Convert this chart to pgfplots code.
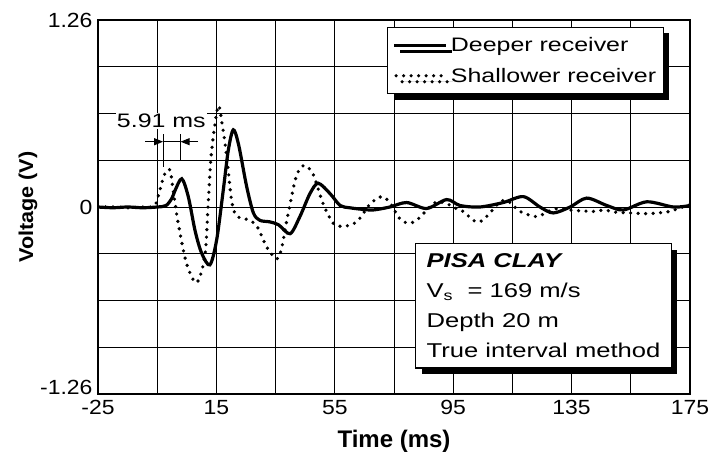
\documentclass[border=0pt]{standalone}
\usepackage{fontspec}
\setmainfont{Liberation Sans}
\usepackage{graphicx}
\usepackage{pgfplots}
\pgfplotsset{compat=1.18}
\usetikzlibrary{shadows,arrows.meta}
\newcommand\sx[1]{\scalebox{1.28}[1]{#1}}
\newcommand\sxt[1]{\scalebox{1.12}[1]{#1}}

\begin{document}
\begin{tikzpicture}
\begin{axis}[
 scale only axis, width=592pt, height=374pt,
 xmin=-25, xmax=175, ymin=-1.26, ymax=1.26,
 xtick={-25,15,55,95,135,175},
 xticklabels={\sxt{-25},\sxt{15},\sxt{55},\sxt{95},\sxt{135},\sxt{175}},
 minor xtick={-5,35,75,115,155},
 ytick={0,1.26},
 yticklabels={\sxt{0},\sxt{1.26}},
 extra y ticks={-1.26},
 extra y tick labels={\sxt{-1.26}},
 extra y tick style={yticklabel style={yshift=7pt}},
 minor ytick={-0.945,-0.63,-0.315,0.315,0.63,0.945},
 grid=both,
 major grid style={black, line width=0.7pt},
 minor grid style={black, line width=0.7pt},
 axis line style={line width=2.6pt},
 tick style={draw=none},
 ticklabel style={font=\fontsize{20.5}{22}\selectfont},
 xticklabel style={yshift=-3pt},
 yticklabel style={xshift=-2pt},
 /pgf/number format/assume math mode=true,
 xlabel={Time (ms)},
 ylabel={\scalebox{1.08}[1]{Voltage (V)}},
 xlabel style={font=\fontsize{24}{26}\selectfont\bfseries, yshift=-8pt},
 ylabel style={font=\fontsize{20}{22}\selectfont\bfseries},
 ylabel shift=-4pt,
 legend style={at={(0.488,0.982)}, anchor=north west, draw=black, line width=1.2pt, fill=white,
   font=\fontsize{19.5}{21}\selectfont,
   drop shadow={shadow xshift=6pt, shadow yshift=-6pt, fill=black, opacity=1},
   inner xsep=5pt, inner ysep=8pt, row sep=11pt},
 legend cell align=left,
]
\coordinate (bl) at (rel axis cs:0,0);
\coordinate (tr) at (rel axis cs:1,1);

\addplot[black, line width=3.2pt, smooth, tension=0.5,
  legend image code/.code={\draw[black,line width=3.2pt] (0pt,0pt) -- (52pt,0pt);}] coordinates {
(-25,0.0) (-20,-0.005) (-15,0.0) (-10,-0.005) (-5,0.0) (-2,0.01) (0,0.06) (1,0.11) (3.3,0.19)
(5.5,0.07) (7.8,-0.16) (10,-0.31) (12.8,-0.39) (15.1,-0.22) (17.3,0.11) (19,0.38) (20.7,0.52)
(22.5,0.42) (25.2,0.14) (27.5,-0.04) (29.7,-0.09) (33,-0.10) (36,-0.12) (39.9,-0.18)
(43.2,-0.065) (46.6,0.09) (49.4,0.16) (53.4,0.09) (56.8,0.01) (60,-0.005) (64,-0.015) (68,-0.02)
(73.6,0.0) (79.3,0.03) (86,-0.01) (92.8,0.05) (97.3,0.01) (104,0.0) (111.9,0.03) (118.7,0.07)
(124.3,0.0) (128.8,-0.04) (134.5,0.0) (140.1,0.06) (146.9,0.01) (152.5,-0.02) (160.4,0.035)
(169.4,0.0) (175,0.01)
};
\addlegendentry{\sx{Deeper receiver}}

\addplot[black, line width=3.6pt, line cap=round, dash pattern=on 0pt off 7.5pt, smooth, tension=0.5,
  legend image code/.code={\draw[black,line width=3.6pt,line cap=round,dash pattern=on 0pt off 7.5pt] (2pt,0pt) -- (53pt,0pt);}] coordinates {
(-25,0.0) (-20,0.0) (-15,-0.005) (-10,0.0) (-7,0.0) (-5.5,0.02) (-4,0.12) (-2.5,0.22) (-0.7,0.25)
(0.4,0.11) (2.1,-0.11) (4.9,-0.38) (8.3,-0.51) (11.1,-0.33) (12.3,0.05) (13.4,0.38) (15.6,0.68)
(17,0.55) (18.5,0.34) (20.1,0.05) (21.8,-0.06) (26.4,-0.09) (29,-0.14) (32,-0.27) (35.4,-0.35)
(37,-0.28) (38.5,-0.12) (40,0.03) (41.6,0.18) (43,0.25) (44.9,0.28) (47.7,0.22) (51.1,0.02)
(54.5,-0.11) (57.9,-0.13) (62.4,-0.10) (66.9,0.02) (70.8,0.07) (73.6,0.03) (77,-0.08)
(80.4,-0.11) (83.8,-0.07) (86,-0.02) (89.4,0.035) (93,0.02) (96,-0.01) (98.4,-0.03)
(101.8,-0.09) (104,-0.10) (107,-0.05) (110.8,0.035) (113.5,0.04) (117.6,-0.03) (123.2,-0.065)
(127,-0.03) (130.5,-0.01) (134,-0.02) (142.3,-0.03) (145.7,-0.02) (150,-0.035) (154.7,-0.04)
(160.4,-0.045) (164,-0.04) (168.2,-0.03) (171,-0.01) (173.9,0.01) (175,0.015)
};
\addlegendentry{\sx{Shallower receiver}}

\draw[line width=1pt, -{Triangle[length=9pt,width=7pt]}] (axis cs:-9.1,0.44) -- (axis cs:-3,0.44);
\draw[line width=1pt, -{Triangle[length=9pt,width=7pt]}] (axis cs:8.8,0.44) -- (axis cs:2.9,0.44);
\draw[line width=0.5pt] (axis cs:-3,0.44) -- (axis cs:2.9,0.44);
\draw[line width=0.8pt] (axis cs:-3,0.49) -- (axis cs:-3,0.27);
\draw[line width=0.8pt] (axis cs:2.9,0.49) -- (axis cs:2.9,0.32);
\node[font=\fontsize{19.5}{20}\selectfont, fill=white, inner sep=1pt] at (axis cs:-3.6,0.58) {\sx{5.91 ms}};

\node[draw, line width=1.2pt, fill=white,
  drop shadow={shadow xshift=6pt, shadow yshift=-6pt, fill=black, opacity=1},
  anchor=north west, align=left, inner xsep=11pt, inner ysep=10pt,
  font=\fontsize{20}{30}\selectfont] at (rel axis cs:0.5355,0.403)
  {\sx{\textbf{\textit{PISA CLAY}}}\\ \sx{V\textsubscript{s}\ \ = 169 m/s}\\ \sx{Depth 20 m}\\ \sx{True interval method}};
\end{axis}
\pgfresetboundingbox
\path[use as bounding box] ([shift={(-98pt,-64pt)}]bl) rectangle ([shift={(37pt,20pt)}]tr);
\end{tikzpicture}
\end{document}
